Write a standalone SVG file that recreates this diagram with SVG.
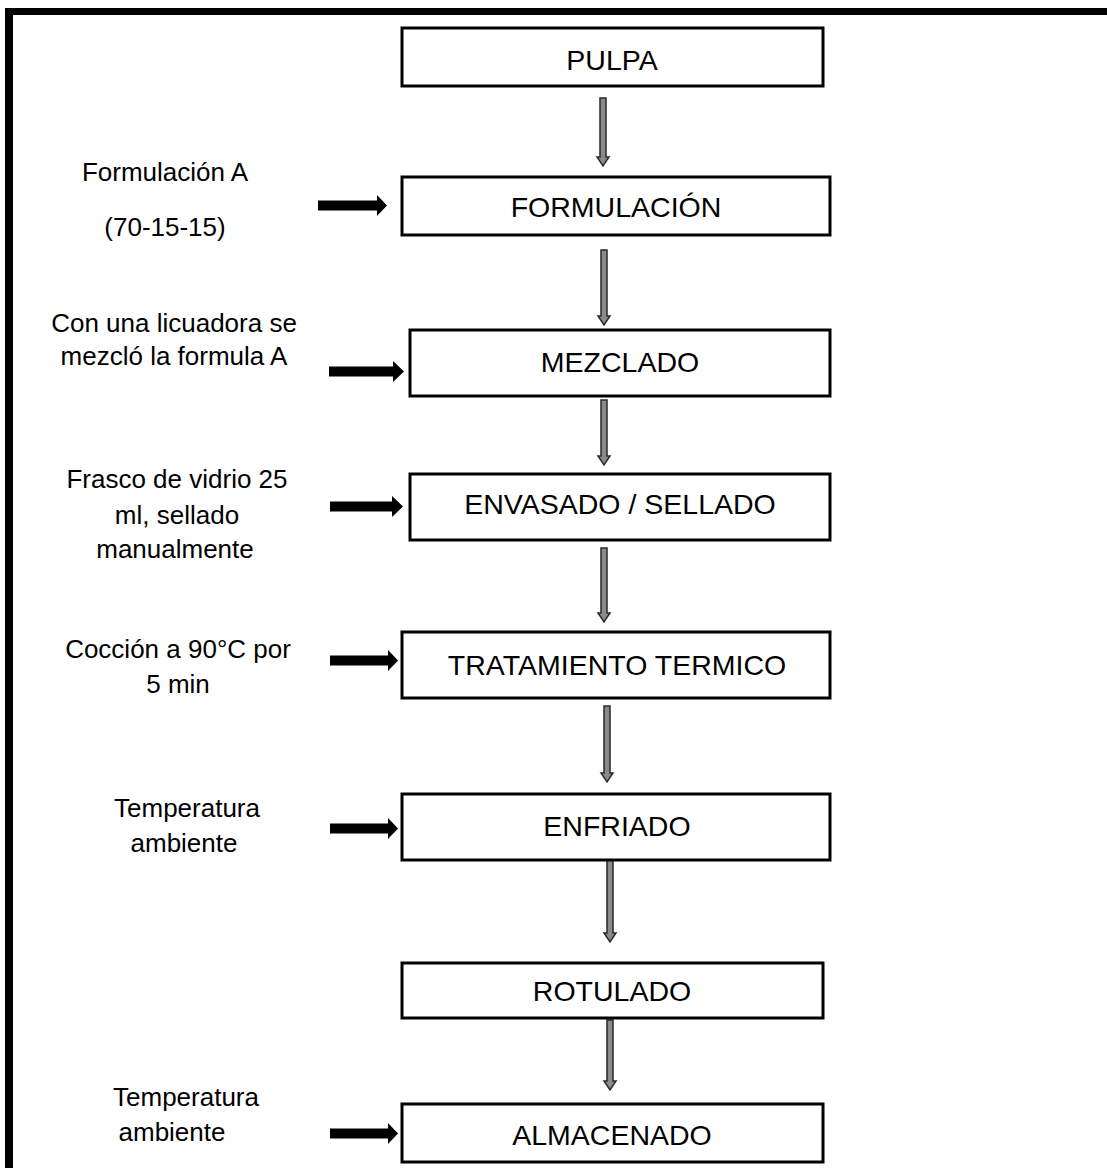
<svg xmlns="http://www.w3.org/2000/svg" width="1107" height="1168" viewBox="0 0 1107 1168">
<defs>
<style>
.box{fill:#fff;stroke:#000;stroke-width:3}
.lbl{font-family:"Liberation Sans",Arial,sans-serif;font-size:28.5px;fill:#000;text-anchor:middle}
.side{font-family:"Liberation Sans",Arial,sans-serif;font-size:26px;fill:#000;text-anchor:middle}
.down{fill:#8a8a8a;stroke:#2a2a2a;stroke-width:1.5;stroke-linejoin:miter}
.right{fill:#000}
</style>
</defs>
<rect width="1107" height="1168" fill="#fff"/>
<g id="frame">
<rect x="5" y="8" width="1102" height="7" fill="#000"/>
<rect x="5" y="8" width="8" height="1160" fill="#000"/>
</g>
<g id="connectors">
<path class="down" d="M600,98 H606 V157 H609 L603,166 L597,157 H600 Z"/>
<path class="down" d="M601,250 H607 V316 H610 L604,325 L598,316 H601 Z"/>
<path class="down" d="M601,400 H607 V456 H610 L604,465 L598,456 H601 Z"/>
<path class="down" d="M601,548 H607 V613 H610 L604,622 L598,613 H601 Z"/>
<path class="down" d="M604,706 H610 V773 H613 L607,782 L601,773 H604 Z"/>
<path class="down" d="M607,860 H613 V933 H616 L610,942 L604,933 H607 Z"/>
<path class="down" d="M607,1020 H613 V1081 H616 L610,1090 L604,1081 H607 Z"/>
<path class="right" d="M318,200.5 H377 V195 L387,205.5 L377,216 V210.5 H318 Z"/>
<path class="right" d="M329,366.5 H393 V361 L404,371.5 L393,382 V376.5 H329 Z"/>
<path class="right" d="M330,501.5 H392 V496 L403,506.5 L392,517 V511.5 H330 Z"/>
<path class="right" d="M330,655.5 H388 V650 L398,660.5 L388,671 V665.5 H330 Z"/>
<path class="right" d="M330,823.5 H388 V818 L398,828.5 L388,839 V833.5 H330 Z"/>
<path class="right" d="M330,1128.5 H388 V1123 L398,1133.5 L388,1144 V1138.5 H330 Z"/>
</g>
<g id="n-pulpa"><rect class="box" x="402" y="28" width="421" height="58"/><text class="lbl" x="612" y="70">PULPA</text></g>
<g id="n-formulacion"><rect class="box" x="402" y="177" width="428" height="58"/><text class="lbl" x="616" y="217">FORMULACIÓN</text></g>
<g id="n-mezclado"><rect class="box" x="410" y="330" width="420" height="66"/><text class="lbl" x="620" y="372">MEZCLADO</text></g>
<g id="n-envasado"><rect class="box" x="410" y="474" width="420" height="66"/><text class="lbl" x="620" y="514">ENVASADO / SELLADO</text></g>
<g id="n-tratamiento"><rect class="box" x="402" y="632" width="428" height="66"/><text class="lbl" x="617" y="675">TRATAMIENTO TERMICO</text></g>
<g id="n-enfriado"><rect class="box" x="402" y="794" width="428" height="66"/><text class="lbl" x="617" y="836">ENFRIADO</text></g>
<g id="n-rotulado"><rect class="box" x="402" y="963" width="421" height="55"/><text class="lbl" x="612" y="1001">ROTULADO</text></g>
<g id="n-almacenado"><rect class="box" x="402" y="1104" width="421" height="58"/><text class="lbl" x="612" y="1145">ALMACENADO</text></g>
<g id="side-labels">
<text class="side" x="165" y="181">Formulación A</text>
<text class="side" x="165" y="236">(70-15-15)</text>
<text class="side" x="174" y="332">Con una licuadora se</text>
<text class="side" x="174" y="365">mezcló la formula A</text>
<text class="side" x="177" y="488">Frasco de vidrio 25</text>
<text class="side" x="177" y="524">ml, sellado</text>
<text class="side" x="175" y="558">manualmente</text>
<text class="side" x="178" y="658">Cocción a 90°C por</text>
<text class="side" x="178" y="693">5 min</text>
<text class="side" x="187" y="817">Temperatura</text>
<text class="side" x="184" y="852">ambiente</text>
<text class="side" x="186" y="1106">Temperatura</text>
<text class="side" x="172" y="1141">ambiente</text>
</g>
</svg>
